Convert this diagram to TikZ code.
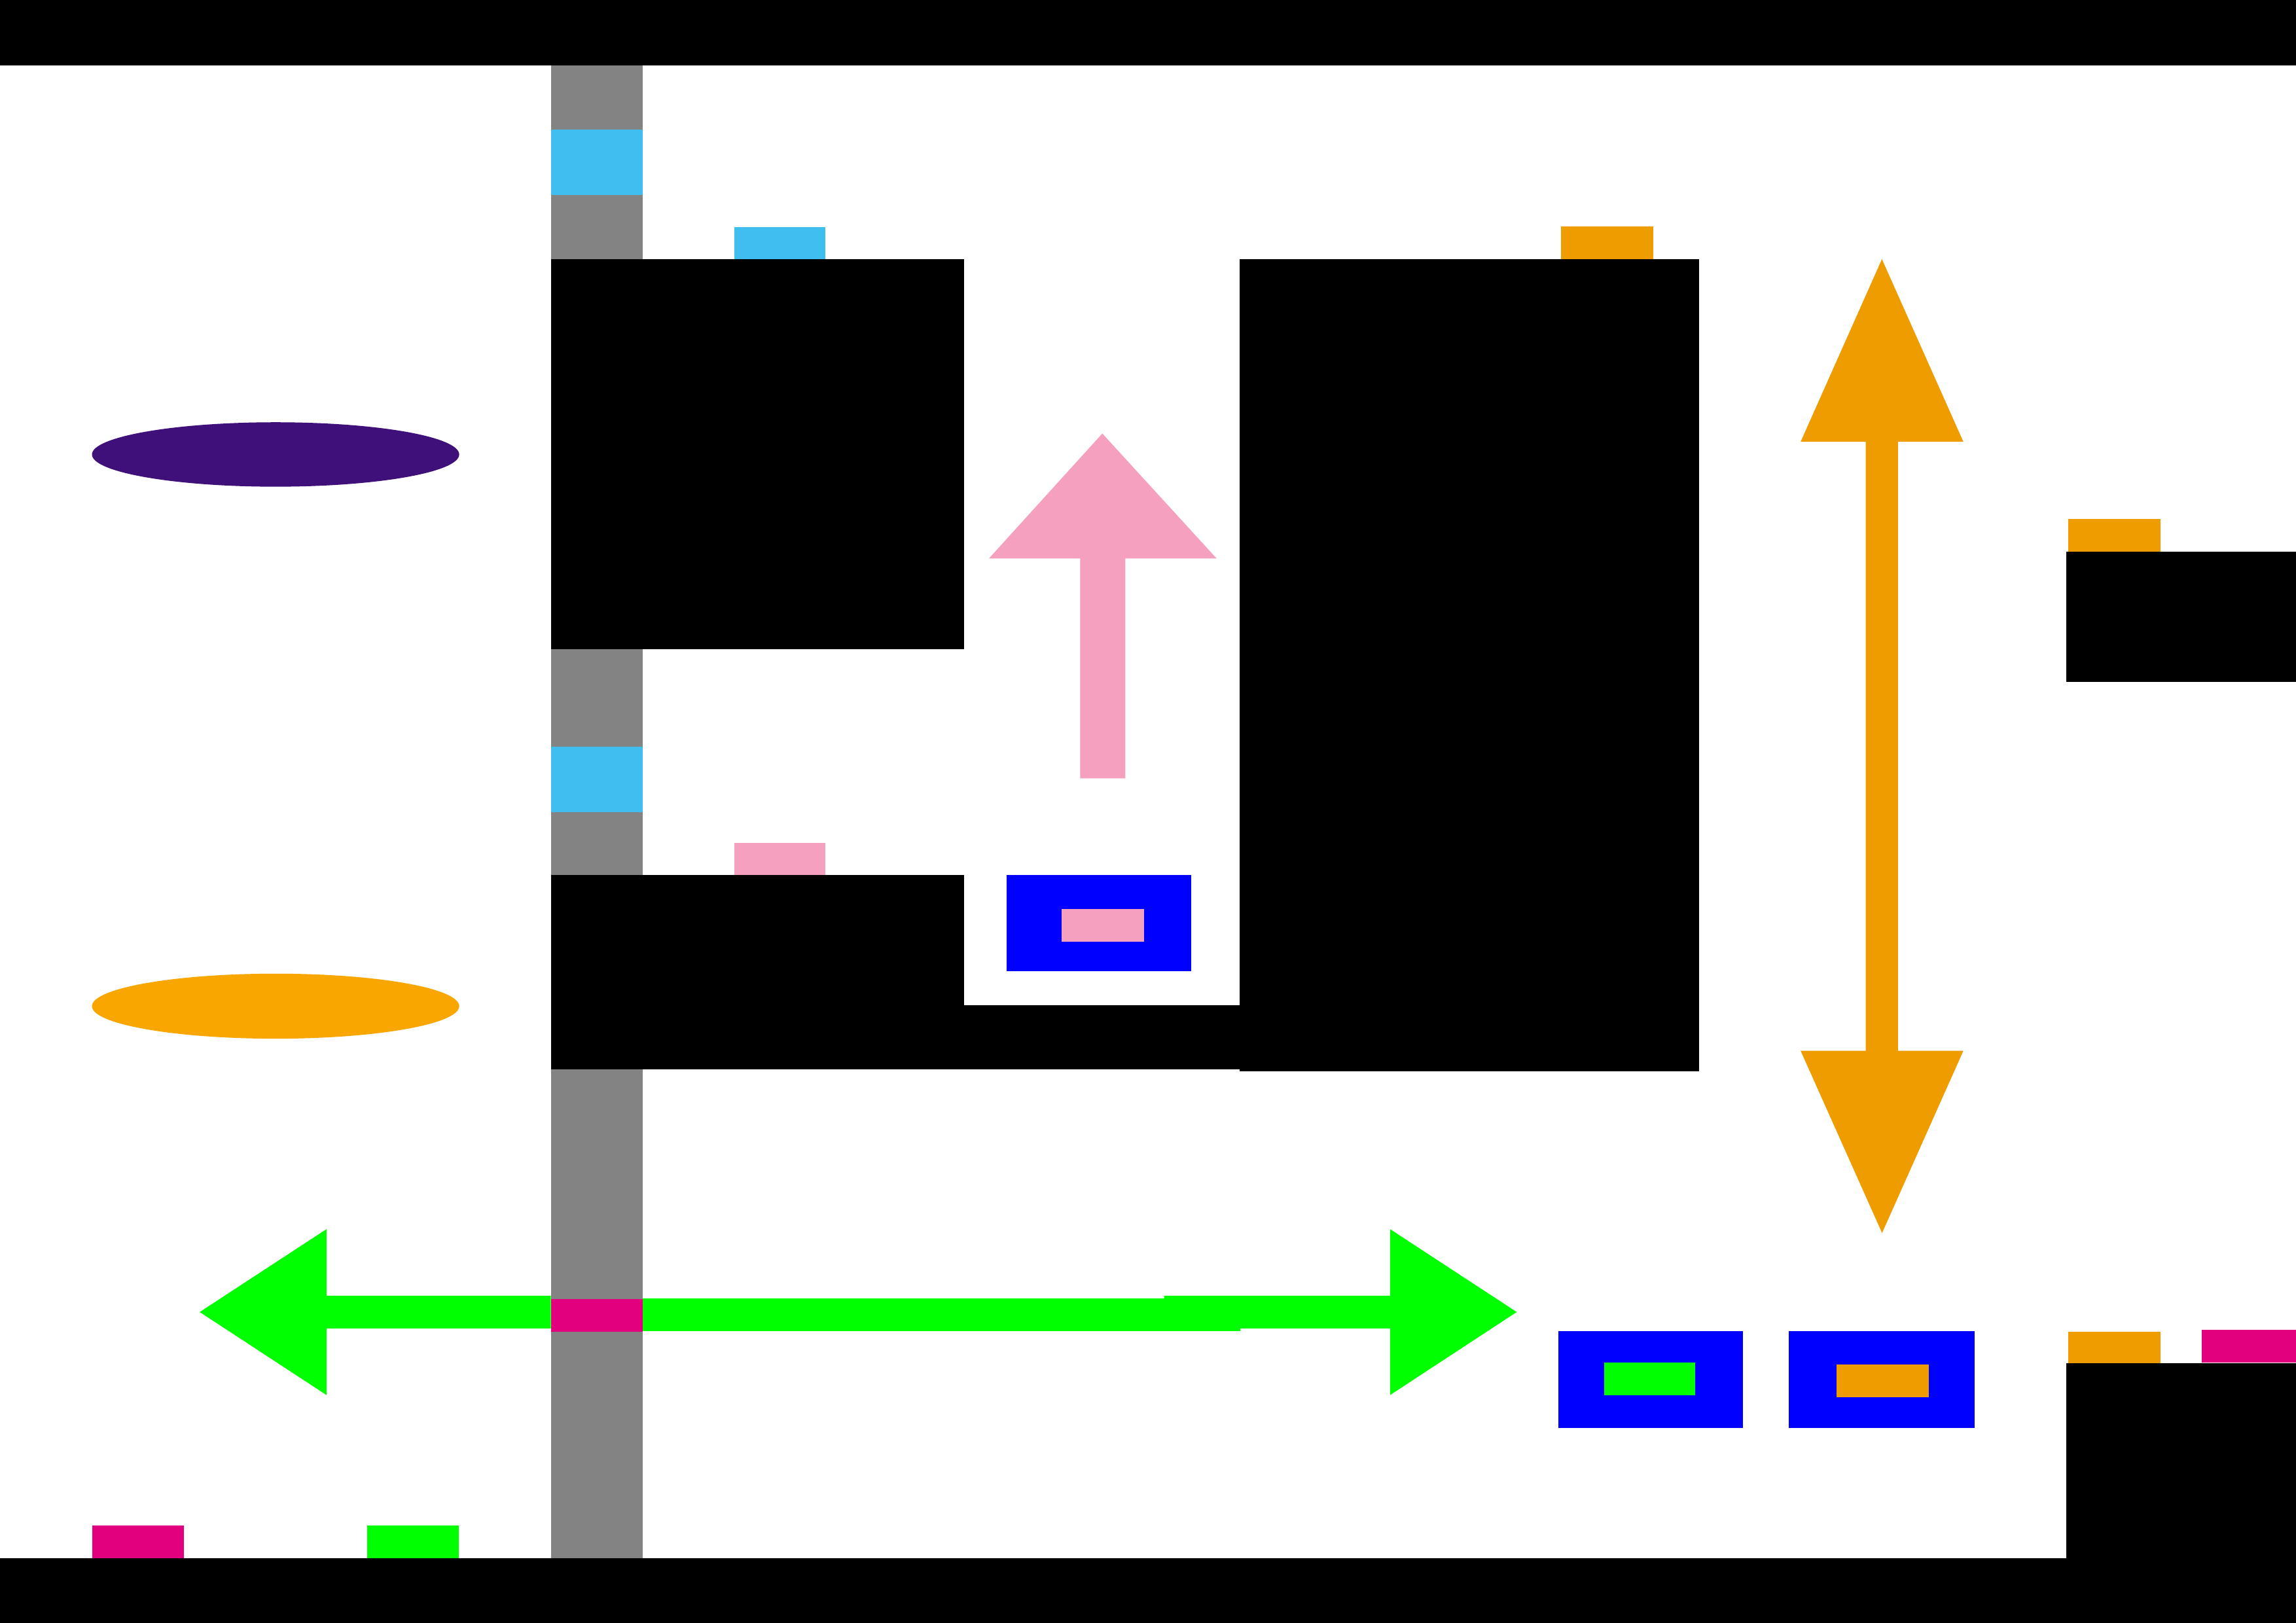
\documentclass[tikz,border=0pt]{standalone}
\definecolor{cgray}{HTML}{838383}
\definecolor{ccyan}{HTML}{40BEF0}
\definecolor{cpink}{HTML}{F4A0BE}
\definecolor{cblue}{HTML}{0000FF}
\definecolor{cgreen}{HTML}{00FF00}
\definecolor{cmag}{HTML}{E3007E}
\definecolor{corange}{HTML}{EF9C00}
\definecolor{cellor}{HTML}{F9A600}
\definecolor{cpurple}{HTML}{3F0F7A}
\tikzset{
  blk/.style={fill=black},
  gry/.style={fill=cgray},
  cyanfill/.style={fill=ccyan},
  pinkfill/.style={fill=cpink},
  bluefill/.style={fill=cblue},
  greenfill/.style={fill=cgreen},
  magfill/.style={fill=cmag},
  orfill/.style={fill=corange},
}
\begin{document}
\begin{tikzpicture}[x=1pt,y=-1pt]
\useasboundingbox (0,0) rectangle (1568,1108.5);
\fill[white] (0,0) rectangle (1568,1108.5);
% gray vertical bar
\path[gry] (376.2,44.6) rectangle (439,1064.3);
\path[cyanfill] (376.2,88.7) rectangle (439,133.3);
\path[cyanfill] (376.2,509.8) rectangle (439,554.9);
% top/bottom bars
\path[blk] (0,0) rectangle (1568,44.6);
\path[blk] (0,1064.3) rectangle (1568,1108.5);
% ellipses
\fill[cpurple] (188.2,310.4) ellipse [x radius=125.4, y radius=22];
\fill[cellor] (188.2,687.2) ellipse [x radius=125.4, y radius=22.2];
% small tabs
\path[cyanfill] (501.5,155.1) rectangle (563.8,177);
\path[orfill] (1066.1,154.7) rectangle (1129.1,177);
\path[pinkfill] (501.5,575.7) rectangle (563.8,597.5);
\path[orfill] (1412.5,354.4) rectangle (1475.5,376.8);
\path[orfill] (1412.4,909.6) rectangle (1475.4,931.1);
\path[magfill] (1503.7,908.3) rectangle (1568,930.5);
\path[magfill] (62.8,1041.8) rectangle (125.8,1064.3);
\path[greenfill] (250.6,1041.8) rectangle (313.3,1064.3);
% black boxes
\path[blk] (376.2,176.9) rectangle (658.6,443.4);
\path[blk] (846.6,177) rectangle (1160.4,731.7);
\path[blk] (376.2,597.5) rectangle (658.6,730.3);
\path[blk] (658.6,686.7) rectangle (846.6,730.3);
\path[blk] (1411.2,376.8) rectangle (1568,465.7);
\path[blk] (1411,931.1) rectangle (1568,1064.3);
% blue boxes
\path[bluefill] (687.3,597.5) rectangle (813.5,663.4);
\path[pinkfill] (725.2,620.8) rectangle (781.5,643.1);
\path[bluefill] (1064.2,909.1) rectangle (1190.3,975.3);
\path[greenfill] (1095.6,930.6) rectangle (1157.6,953);
\path[bluefill] (1221.6,909.1) rectangle (1348.7,975.3);
\path[orfill] (1254.3,932) rectangle (1317.4,954.1);
% pink up arrow
\path[pinkfill] (752.8,296.1) -- (830.8,381.4) -- (768.5,381.4) -- (768.5,531.6)
  -- (737.7,531.6) -- (737.7,381.4) -- (675.4,381.4) -- cycle;
% orange double arrow
\path[orfill] (1285.2,177) -- (1340.8,301.7) -- (1296.2,301.7) -- (1296.2,717.7)
  -- (1340.8,717.7) -- (1285.3,842.1) -- (1229.7,717.7) -- (1274.2,717.7)
  -- (1274.2,301.7) -- (1229.7,301.7) -- cycle;
% green double arrow
\path[greenfill] (136.4,896.1) -- (223,839.5) -- (223,885) -- (376.2,885)
  -- (376.2,907.3) -- (223,907.3) -- (223,952.8) -- cycle;
\path[greenfill] (439,886.8) rectangle (847,909.2);
\path[greenfill] (795,885) -- (949.3,885) -- (949.3,839.5) -- (1035.8,896.1)
  -- (949.3,952.8) -- (949.3,907.3) -- (795,907.3) -- cycle;
\path[magfill] (376.2,887.4) rectangle (439,909.4);
\end{tikzpicture}
\end{document}
